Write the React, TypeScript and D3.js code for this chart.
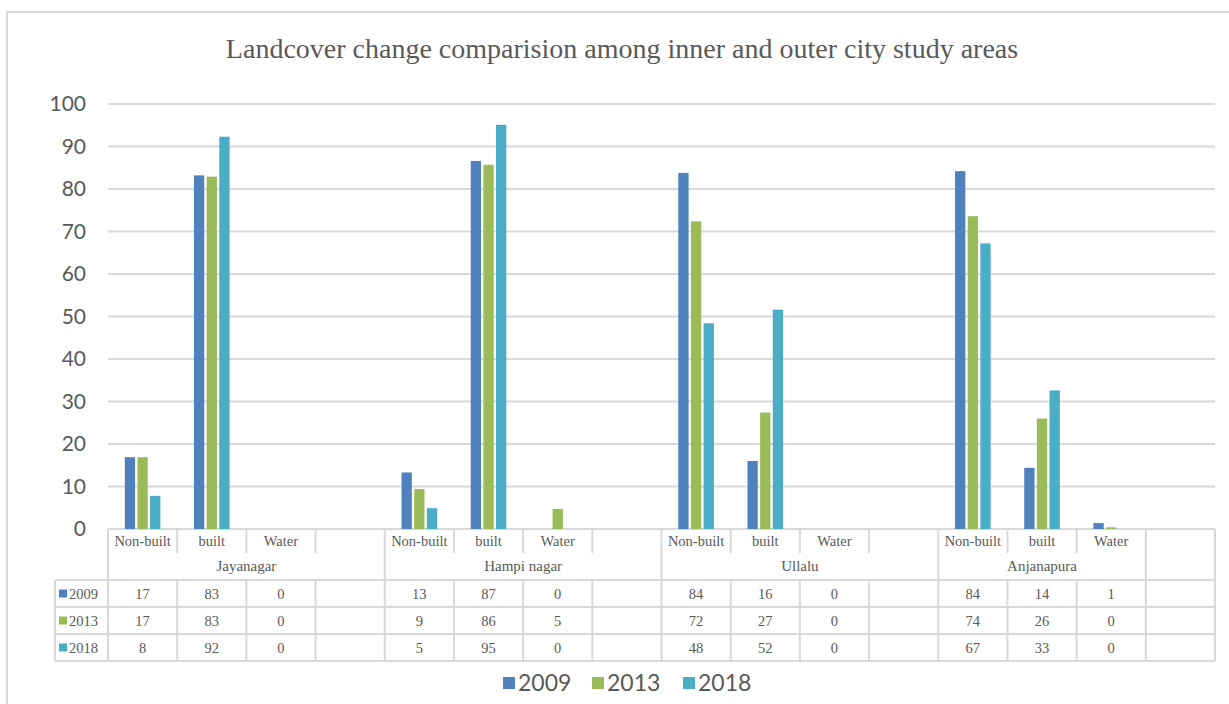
import React from 'react';
import * as d3 from 'd3';

const title = 'Landcover change comparision among inner and outer city study areas';
const years = ['2009', '2013', '2018'];
const colors = ['#4F81BD', '#9BBB59', '#4BACC6'];
const yTicks = [0, 10, 20, 30, 40, 50, 60, 70, 80, 90, 100];

// groups on the x axis and their sub-categories
const groups = [
  { name: 'Jayanagar', subs: ['Non-built', 'built', 'Water', ''] },
  { name: 'Hampi nagar', subs: ['Non-built', 'built', 'Water', ''] },
  { name: 'Ullalu', subs: ['Non-built', 'built', 'Water', ''] },
  { name: 'Anjanapura', subs: ['Non-built', 'built', 'Water'] },
  { name: '', subs: [''] },
];

// one value per column (null = empty column)
const v2009 = [16.9, 83.2, 0, null, 13.3, 86.6, 0, null, 83.8, 16.0, 0, null, 84.2, 14.4, 1.4, null];
const v2013 = [16.9, 82.9, 0, null, 9.4, 85.7, 4.7, null, 72.4, 27.4, 0, null, 73.6, 26.0, 0.4, null];
const v2018 = [7.8, 92.3, 0, null, 4.9, 95.1, 0, null, 48.4, 51.6, 0, null, 67.2, 32.6, 0, null];
const series = [v2009, v2013, v2018];

const GRID = '#d9d9d9';
const TXT = '#595959';
const SERIF = '"Liberation Serif", "DejaVu Serif", serif';
const SANS = 'Lato, "Open Sans", sans-serif';

export default function App() {
  const left = 108;
  const right = 1215;
  const top = 104;
  const base = 529;

  const cols = groups.flatMap((g, gi) => g.subs.map((s, si) => ({ g: gi, s: si, label: s })));
  const x = d3.scaleBand<number>().domain(cols.map((_, i) => i)).range([left, right]).padding(0);
  const y = d3.scaleLinear().domain([0, 100]).range([base, top]);
  const cw = x.bandwidth();
  const inner = d3.scaleBand<string>().domain(years).range([-17.8, 17.8]).paddingInner(0.186);

  // table geometry
  const rowHead = 553;
  const rowGroup = 580;
  const rowH = 27;
  const keyLeft = 55;
  const fmt = d3.format('.0f');

  // group extents
  let idx = 0;
  const groupSpans = groups.map((g) => {
    const start = idx;
    idx += g.subs.length;
    return { name: g.name, start, end: idx };
  });

  const lines: React.ReactNode[] = [];
  // horizontal table lines
  lines.push(<line key="h-head" x1={left} x2={right} y1={rowGroup} y2={rowGroup} />);
  years.forEach((_, r) => {
    const yy = rowGroup + rowH * (r + 1);
    lines.push(<line key={'h' + r} x1={keyLeft} x2={right} y1={yy} y2={yy} />);
  });
  lines.push(<line key="h-key" x1={keyLeft} x2={left} y1={rowGroup} y2={rowGroup} />);
  lines.push(<line key="v-key" x1={keyLeft} x2={keyLeft} y1={rowGroup} y2={rowGroup + rowH * 3} />);
  // vertical lines
  cols.forEach((c, i) => {
    const xx = x(i)!;
    const isGroupStart = groupSpans.some((g) => g.start === i);
    lines.push(
      <line key={'v' + i} x1={xx} x2={xx} y1={isGroupStart ? base : rowGroup} y2={rowGroup + rowH * 3} />
    );
    if (!isGroupStart) {
      lines.push(<line key={'vh' + i} x1={xx} x2={xx} y1={base} y2={rowHead} />);
    }
  });
  lines.push(<line key="v-end" x1={right} x2={right} y1={base} y2={rowGroup + rowH * 3} />);

  return (
    <svg
      width={1229}
      height={704}
      style={{ position: 'absolute', left: 0, top: 0, background: '#fff' }}
    >
      <rect x={7} y={12} width={1240} height={720} fill="#fff" stroke={GRID} strokeWidth={2} />
      <text x={622} y={58} textAnchor="middle" fontFamily={SERIF} fontSize={28} fill={TXT}>
        {title}
      </text>

      {/* grid + y labels */}
      {yTicks.map((t) => (
        <g key={t}>
          <line x1={left} x2={right} y1={y(t)} y2={y(t)} stroke={GRID} strokeWidth={2} />
          <text x={86} y={y(t) + 7} textAnchor="end" fontFamily={SANS} fontSize={21} fill={TXT}>
            {t}
          </text>
        </g>
      ))}

      {/* bars */}
      {series.map((vals, si) =>
        vals.map((v, ci) =>
          v === null || v === 0 ? null : (
            <rect
              key={si + '-' + ci}
              x={x(ci)! + cw / 2 + inner(years[si])!}
              y={y(v)}
              width={inner.bandwidth()}
              height={base - y(v)}
              fill={colors[si]}
            />
          )
        )
      )}

      {/* data table */}
      <g stroke={GRID} strokeWidth={2}>{lines}</g>
      {cols.map((c, i) => (
        <text key={'sub' + i} x={x(i)! + cw / 2} y={546} textAnchor="middle" fontFamily={SERIF} fontSize={14.5} fill={TXT}>
          {c.label}
        </text>
      ))}
      {groupSpans.map((g, i) => (
        <text
          key={'grp' + i}
          x={(x(g.start)! + (g.end < cols.length ? x(g.end)! : right)) / 2}
          y={571}
          textAnchor="middle"
          fontFamily={SERIF}
          fontSize={15}
          fill={TXT}
        >
          {g.name}
        </text>
      ))}
      {years.map((yr, r) => {
        const cy = rowGroup + rowH * r + rowH / 2;
        return (
          <g key={'row' + yr}>
            <rect x={59} y={cy - 4} width={8} height={8} fill={colors[r]} />
            <text x={69} y={cy + 5} fontFamily={SERIF} fontSize={14.5} fill={TXT}>
              {yr}
            </text>
            {series[r].map((v, ci) =>
              v === null ? null : (
                <text
                  key={ci}
                  x={x(ci)! + cw / 2}
                  y={cy + 5}
                  textAnchor="middle"
                  fontFamily={SERIF}
                  fontSize={14.5}
                  fill={TXT}
                >
                  {fmt(v)}
                </text>
              )
            )}
          </g>
        );
      })}

      {/* legend */}
      {years.map((yr, i) => {
        const lx = [503, 592, 683][i];
        return (
          <g key={'leg' + yr}>
            <rect x={lx} y={677} width={12} height={12} fill={colors[i]} />
            <text x={lx + 15} y={691} fontFamily={SANS} fontSize={23} fill={TXT}>
              {yr}
            </text>
          </g>
        );
      })}
    </svg>
  );
}
